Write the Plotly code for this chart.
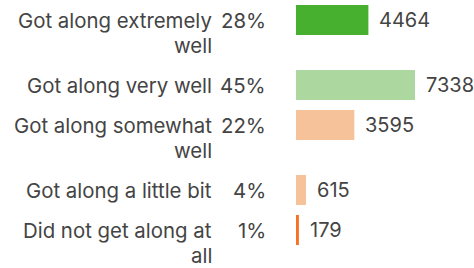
import plotly.graph_objects as go

labels = ["Got along extremely<br>well", "Got along very well", "Got along somewhat<br>well",
          "Got along a little bit", "Did not get along at<br>all"]
percents = ["28%", "45%", "22%", "4%", "1%"]
counts = [4464, 7338, 3595, 615, 179]
colors = ["#48b02f", "#acd8a0", "#f5c29a", "#f5c29a", "#f97127"]

W, H = 474, 268
ROW = 40        # px per single-line row
EXTRA = 25      # px per extra label line
TOP = 20
BAR_LEFT = 296
BAR_MAX_RIGHT = 415

# row centres derived from label line counts
ys = []
cur = TOP
for lab in labels:
    ys.append(cur)
    cur += ROW + EXTRA * lab.count("<br>")

xmax = max(counts) * (W - BAR_LEFT) / (BAR_MAX_RIGHT - BAR_LEFT)

fig = go.Figure(go.Bar(
    x=counts, y=ys, orientation="h", width=30,
    marker=dict(color=colors, line=dict(width=0)),
    hoverinfo="skip",
))

LABEL_FONT = dict(family="Inter", size=20.4, color="#444444")
VAL_FONT = dict(family="Inter", size=20, color="#444444")

ann = []
for lab, pct, c, y in zip(labels, percents, counts, ys):
    for k, line in enumerate(lab.split("<br>")):
        ann.append(dict(x=213 / W, xref="paper", y=y + EXTRA * k, yref="y",
                        text=line, showarrow=False, xanchor="right", yanchor="middle",
                        borderpad=0, font=LABEL_FONT))
    ann.append(dict(x=267 / W, xref="paper", y=y, yref="y", text=pct, showarrow=False,
                    xanchor="right", yanchor="middle", borderpad=0, font=LABEL_FONT))
    ann.append(dict(x=c, xref="x", y=y, yref="y", text=str(c), showarrow=False,
                    xanchor="left", yanchor="middle", xshift=9, font=VAL_FONT))

fig.update_layout(
    width=W, height=H, margin=dict(l=0, r=0, t=0, b=0),
    paper_bgcolor="white", plot_bgcolor="white",
    xaxis=dict(domain=[BAR_LEFT / W, 1], range=[0, xmax], visible=False, fixedrange=True),
    yaxis=dict(range=[H, 0], visible=False, fixedrange=True),
    annotations=ann, showlegend=False,
)
fig.write_html("out.html", config={"displayModeBar": False},
               post_script="document.body.style.margin='0';document.body.style.overflow='hidden';")
